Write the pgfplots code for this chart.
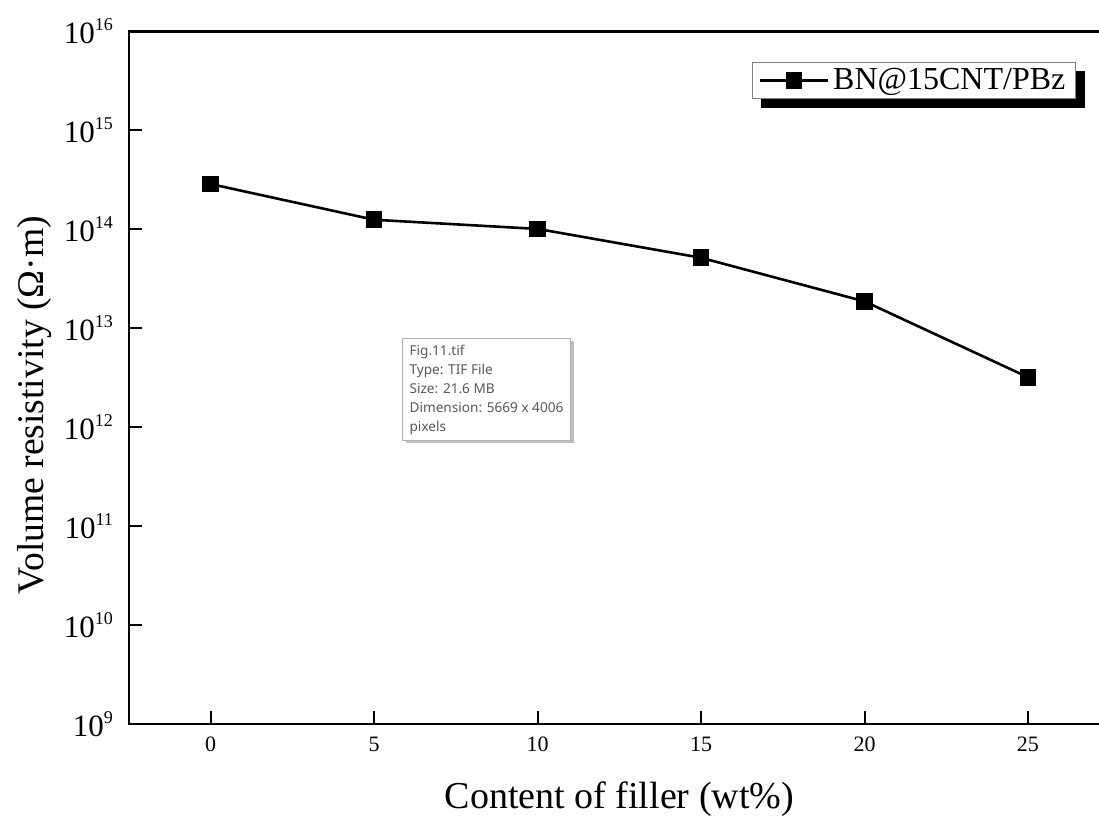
\documentclass[border=0pt]{standalone}
\usepackage{pgfplots}
\pgfplotsset{compat=1.18}
\usepackage{fontspec}
\setmainfont{Liberation Serif}
\newfontfamily\tipfont{Noto Sans}
\usetikzlibrary{shadows,backgrounds}
\begin{document}
\begin{tikzpicture}
\begin{axis}[
  at={(0,0)}, anchor=south west,
  scale only axis,
  width=490.35pt, height=346.25pt,
  xmin=-2.5, xmax=27.5,
  ymode=log, log basis y=10, ymin=1e9, ymax=1e16,
  xtick={0,5,10,15,20,25},
  ytick={1e9,1e10,1e11,1e12,1e13,1e14,1e15,1e16},
  xtick pos=bottom, ytick pos=left,
  tick align=inside,
  major tick length=6.5pt, minor tick length=3.5pt,
  every tick/.style={black, line width=1pt},
  axis line style={line width=1.4pt},
  /pgf/number format/assume math mode=true,
  x tick label style={font=\fontsize{11}{13}\selectfont, yshift=-3pt},
  yticklabel={\fontsize{15.5}{17}\selectfont 10\raisebox{6.5pt}{\fontsize{9}{10}\selectfont\pgfmathparse{int(round(\tick))}\pgfmathresult}},
  y tick label style={xshift=-4.5pt},
  xlabel={Content of filler (wt\%)},
  ylabel={Volume resistivity (Ω·m)},
  xlabel style={font=\fontsize{19}{22}\selectfont, at={(axis description cs:0.5,-0.108)}, anchor=center},
  ylabel style={font=\fontsize{18.8}{22}\selectfont, at={(axis description cs:-0.096,0.4606)}, anchor=center, rotate=0},
  legend style={name=leg, at={(0.6353,0.956)}, anchor=north west, draw=gray, line width=0.6pt,
    fill=white, font=\fontsize{16}{18}\selectfont, inner xsep=3pt, inner ysep=1pt},
  legend cell align=left,
  legend image code/.code={\draw[mark repeat=2,mark phase=2,#1] plot coordinates {(0pt,0pt)(17pt,0pt)(34pt,0pt)};},
]
\addplot[black, line width=1.3pt, mark=square*, mark size=3.5pt, mark options={solid}]
  coordinates {(0,2.87e14) (5,1.25e14) (10,1.01e14) (15,5.16e13) (20,1.87e13) (25,3.2e12)};
\addlegendentry{BN@15CNT/PBz}
\end{axis}
\begin{scope}[on background layer]
\fill[black] ([xshift=4.5pt,yshift=-4.5pt]leg.south west) rectangle ([xshift=4.5pt,yshift=-4.5pt]leg.north east);
\end{scope}
\node[anchor=north west, draw=gray!60, line width=0.5pt, fill=white, text=black!65,
  font=\tipfont\fontsize{6.8}{9.5}\selectfont, align=left, inner xsep=2pt, inner ysep=2.5pt,
  minimum width=84pt, minimum height=51pt,
  drop shadow={shadow xshift=1.5pt, shadow yshift=-1.5pt, fill=gray, opacity=0.5}]
  at (136.5pt,193pt) {Fig.11.tif\\Type: TIF File\\Size: 21.6 MB\\Dimension: 5669 x 4006\\pixels};
\pgfresetboundingbox
\useasboundingbox (-64.5pt,-48pt) rectangle (485pt,362pt);
\end{tikzpicture}
\end{document}
